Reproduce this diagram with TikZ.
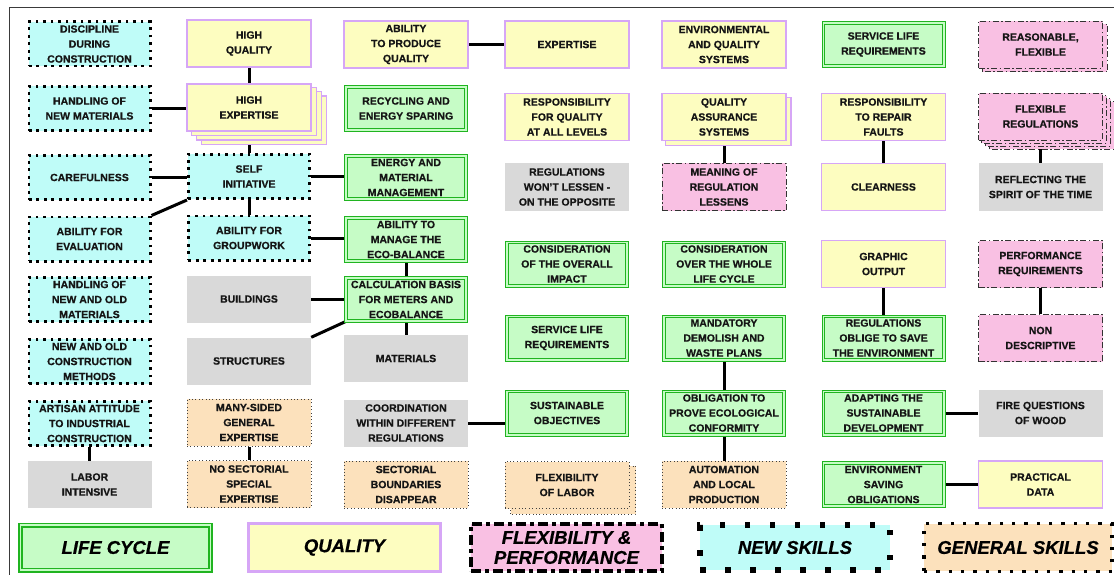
\documentclass[tikz,border=0pt]{standalone}
\usepackage{fontspec}
\setmainfont{Liberation Sans}[BoldFeatures={FakeBold=0.6},BoldItalicFeatures={FakeBold=0.6}]
\usetikzlibrary{calc}

\definecolor{cyanfill}{HTML}{BFFCF8}
\definecolor{yelfill}{HTML}{FDFDC0}
\definecolor{yeldraw}{HTML}{D6A6F6}
\definecolor{grnfill}{HTML}{C6FCC6}
\definecolor{grndraw}{HTML}{20B420}
\definecolor{pinkfill}{HTML}{F9C0E3}
\definecolor{grayfill}{HTML}{D9D9D9}
\definecolor{orgfill}{HTML}{FCE1BC}
\definecolor{txt}{HTML}{151515}
\definecolor{framecol}{HTML}{3A3A3A}

\pgfdeclarelayer{links}
\pgfdeclarelayer{copies}
\pgfsetlayers{links,copies,main}

\tikzset{
  box/.style={rectangle, minimum width=124pt, minimum height=47pt, inner sep=0pt,
    align=center, text=txt, font=\fontsize{10.5}{15}\selectfont\bfseries},
  % looks shared by boxes and their stacked copies
  cyanlook/.style={fill=cyanfill, draw=black, line width=2.7pt, dash pattern=on 2.7pt off 4.8pt},
  yellook/.style={fill=yelfill, draw=yeldraw, line width=1.2pt},
  grnlook/.style={fill=grnfill, draw=grndraw, line width=1pt, double=grnfill, double distance=1.6pt},
  pinklook/.style={fill=pinkfill, draw=black!80, line width=0.9pt, dash pattern=on 6pt off 2.5pt on 1.5pt off 2.5pt},
  orglook/.style={fill=orgfill, draw=black!75, line width=1pt, dash pattern=on 1pt off 2.4pt},
  graylook/.style={fill=grayfill},
  % node styles
  newskill/.style={box, cyanlook, minimum width=121.3pt, minimum height=44.3pt},
  quality/.style={box, yellook},
  lifecycle/.style={box, grnlook, minimum width=120.4pt, minimum height=43.4pt},
  flexperf/.style={box, pinklook},
  general/.style={box, orglook},
  plain/.style={box, graylook},
  link/.style={line width=3pt, black},
  frame/.style={draw=framecol, line width=1.3pt},
  legend/.style={rectangle, inner sep=0pt, align=center, text=black,
    font=\fontsize{18.5}{20}\selectfont\bfseries\itshape},
}

% stacked copies behind a node: node, look, count, dx, dy
\newcommand\stackcopies[5]{%
  \begin{pgfonlayer}{copies}
  \foreach \k in {#3,...,1}{
    \path[#2] ([shift={(\k*#4,\k*#5)}]#1.south west) rectangle ([shift={(\k*#4,\k*#5)}]#1.north east);
  }
  \end{pgfonlayer}}

\begin{document}
\begin{tikzpicture}[x=1pt, y=-1pt]
\useasboundingbox (0,0) rectangle (1114,575);
\draw[frame] (9.3,575) -- (9.3,7.3) -- (1114,7.3);

% column 1
\node[newskill] (disc) at (89.5,44) {DISCIPLINE\\DURING\\CONSTRUCTION};
\node[newskill] (hnm)  at (89.5,108.5) {HANDLING OF\\NEW MATERIALS};
\node[newskill] (care) at (89.5,177.5) {CAREFULNESS};
\node[newskill] (eval) at (89.5,239) {ABILITY FOR\\EVALUATION};
\node[newskill] (hno)  at (89.5,299.5) {HANDLING OF\\NEW AND OLD\\MATERIALS};
\node[newskill] (nocm) at (89.5,361.5) {NEW AND OLD\\CONSTRUCTION\\METHODS};
\node[newskill] (art)  at (89.5,423.5) {ARTISAN ATTITUDE\\TO INDUSTRIAL\\CONSTRUCTION};
\node[plain]    (lab)  at (89.5,484.5) {LABOR\\INTENSIVE};

% column 2
\node[quality]  (hq)  at (249,43.5) {HIGH\\QUALITY};
\node[quality]  (he)  at (249,107.5) {HIGH\\EXPERTISE};
\stackcopies{he}{yellook}{3}{4.9}{4.2}
\node[newskill] (si)  at (249,176.5) {SELF\\INITIATIVE};
\node[newskill] (grp) at (249,238) {ABILITY FOR\\GROUPWORK};
\node[plain]    (bld) at (249,299) {BUILDINGS};
\node[plain]    (str) at (249,361) {STRUCTURES};
\node[general]  (msg) at (249,422.5) {MANY-SIDED\\GENERAL\\EXPERTISE};
\node[general]  (nss) at (249,484) {NO SECTORIAL\\SPECIAL\\EXPERTISE};

% column 3
\node[quality]   (apq)  at (406,44.5) {ABILITY\\TO PRODUCE\\QUALITY};
\node[lifecycle] (rec)  at (406,108.5) {RECYCLING AND\\ENERGY SPARING};
\node[lifecycle] (emm)  at (406,177.5) {ENERGY AND\\MATERIAL\\MANAGEMENT};
\node[lifecycle] (eco)  at (406,239.5) {ABILITY TO\\MANAGE THE\\ECO-BALANCE};
\node[lifecycle] (calc) at (406,299.5) {CALCULATION BASIS\\FOR METERS AND\\ECOBALANCE};
\node[plain]     (mat)  at (406,358.5) {MATERIALS};
\node[plain]     (coord) at (406,423) {COORDINATION\\WITHIN DIFFERENT\\REGULATIONS};
\node[general]   (sect) at (406,484.5) {SECTORIAL\\BOUNDARIES\\DISAPPEAR};

% column 4
\node[quality]   (exp)   at (567,44.5) {EXPERTISE};
\node[quality]   (rfq)   at (567,117) {RESPONSIBILITY\\FOR QUALITY\\AT ALL LEVELS};
\node[plain]     (regw)  at (567,187) {REGULATIONS\\WON'T LESSEN -\\ON THE OPPOSITE};
\node[lifecycle] (cons)  at (567,264) {CONSIDERATION\\OF THE OVERALL\\IMPACT};
\node[lifecycle] (serv)  at (567,338) {SERVICE LIFE\\REQUIREMENTS};
\node[lifecycle] (sust)  at (567,413) {SUSTAINABLE\\OBJECTIVES};
\node[general]   (flab)  at (567,485) {FLEXIBILITY\\OF LABOR};
\stackcopies{flab}{orglook}{1}{6}{5}

% column 5
\node[quality]   (env)  at (724,44.5) {ENVIRONMENTAL\\AND QUALITY\\SYSTEMS};
\node[quality]   (qas)  at (724,117) {QUALITY\\ASSURANCE\\SYSTEMS};
\stackcopies{qas}{yellook}{1}{4.3}{4.3}
\node[flexperf]  (mean) at (724,187) {MEANING OF\\REGULATION\\LESSENS};
\node[lifecycle] (cwl)  at (724,264) {CONSIDERATION\\OVER THE WHOLE\\LIFE CYCLE};
\node[lifecycle] (mand) at (724,338) {MANDATORY\\DEMOLISH AND\\WASTE PLANS};
\node[lifecycle] (obl)  at (724,413) {OBLIGATION TO\\PROVE ECOLOGICAL\\CONFORMITY};
\node[general]   (auto) at (724,484.5) {AUTOMATION\\AND LOCAL\\PRODUCTION};

% column 6
\node[lifecycle] (slr)   at (883.5,44.5) {SERVICE LIFE\\REQUIREMENTS};
\node[quality]   (rrf)   at (883.5,117) {RESPONSIBILITY\\TO REPAIR\\FAULTS};
\node[quality]   (clr)   at (883.5,187) {CLEARNESS};
\node[quality]   (gro)   at (883.5,264) {GRAPHIC\\OUTPUT};
\node[lifecycle] (ros)   at (883.5,338) {REGULATIONS\\OBLIGE TO SAVE\\THE ENVIRONMENT};
\node[lifecycle] (adapt) at (883.5,413) {ADAPTING THE\\SUSTAINABLE\\DEVELOPMENT};
\node[lifecycle] (eso)   at (883.5,484.5) {ENVIRONMENT\\SAVING\\OBLIGATIONS};

% column 7
\node[flexperf] (reas)  at (1040.5,44.5) {REASONABLE,\\FLEXIBLE};
\stackcopies{reas}{pinklook}{1}{4.5}{3.5}
\node[flexperf] (flexr) at (1040.5,116.5) {FLEXIBLE\\REGULATIONS};
\stackcopies{flexr}{pinklook}{3}{3.8}{3}
\node[plain]    (refl)  at (1040.5,187) {REFLECTING THE\\SPIRIT OF THE TIME};
\node[flexperf] (perf)  at (1040.5,264) {PERFORMANCE\\REQUIREMENTS};
\node[flexperf] (nond)  at (1040.5,338) {NON\\DESCRIPTIVE};
\node[plain]    (fire)  at (1040.5,413) {FIRE QUESTIONS\\OF WOOD};
\node[quality]  (prac)  at (1040.5,484.5) {PRACTICAL\\DATA};

% legend
\node[legend, grnlook, line width=1.6pt, double distance=1.8pt,
      minimum width=190pt, minimum height=45pt] (lgl) at (115.5,547.5) {LIFE CYCLE};
\node[legend, fill=yelfill, draw=yeldraw, line width=3pt,
      minimum width=192pt, minimum height=48pt] (lgq) at (344.5,547.5) {QUALITY};
\node[legend, fill=pinkfill, draw=black, line width=4pt, dash pattern=on 10pt off 4pt on 4pt off 4pt,
      minimum width=191pt, minimum height=47pt] (lgf) at (566.5,547.5) {FLEXIBILITY \&\\PERFORMANCE};
\node[legend, fill=cyanfill, draw=black, line width=5.5pt, dash pattern=on 5.5pt off 19.5pt,
      minimum width=190pt, minimum height=45pt] (lgn) at (795,547.5) {NEW SKILLS};
\node[legend, fill=orgfill, draw=black, line width=3.3pt, dash pattern=on 3.3pt off 9pt,
      minimum width=188pt, minimum height=47.5pt] (lgg) at (1018,547.5) {GENERAL SKILLS};

% connectors
\begin{pgfonlayer}{links}
\draw[link] (hq.south) -- (hq.south |- he.north);
\draw[link] (hnm.east) -- (hnm.east -| he.west);
\draw[link] (he.south) -- (he.south |- si.north);
\draw[link] (care.east) -- (care.east -| si.west);
\draw[link] (si.east) -- (si.east -| emm.west);
\draw[link] (eval.north east) -- (si.south west);
\draw[link] (si.south) -- (si.south |- grp.north);
\draw[link] (grp.east) -- (grp.east -| eco.west);
\draw[link] (bld.east) -- (bld.east -| calc.west);
\draw[link] (str.north east) -- (calc.south west);
\draw[link] (eco.south) -- (eco.south |- calc.north);
\draw[link] (calc.south) -- (calc.south |- mat.north);
\draw[link] (apq.east) -- (apq.east -| exp.west);
\draw[link] (coord.east) -- (coord.east -| sust.west);
\draw[link] (qas.south) -- (qas.south |- mean.north);
\draw[link] (mand.south) -- (mand.south |- obl.north);
\draw[link] (obl.south) -- (obl.south |- auto.north);
\draw[link] (rrf.south) -- (rrf.south |- clr.north);
\draw[link] (gro.south) -- (gro.south |- ros.north);
\draw[link] (adapt.east) -- (adapt.east -| fire.west);
\draw[link] (eso.east) -- (eso.east -| prac.west);
\draw[link] (flexr.south) -- (flexr.south |- refl.north);
\draw[link] (perf.south) -- (perf.south |- nond.north);
\draw[link] (msg.south) -- (msg.south |- nss.north);
\draw[link] (art.south) -- (art.south |- lab.north);
\end{pgfonlayer}
\end{tikzpicture}
\end{document}
